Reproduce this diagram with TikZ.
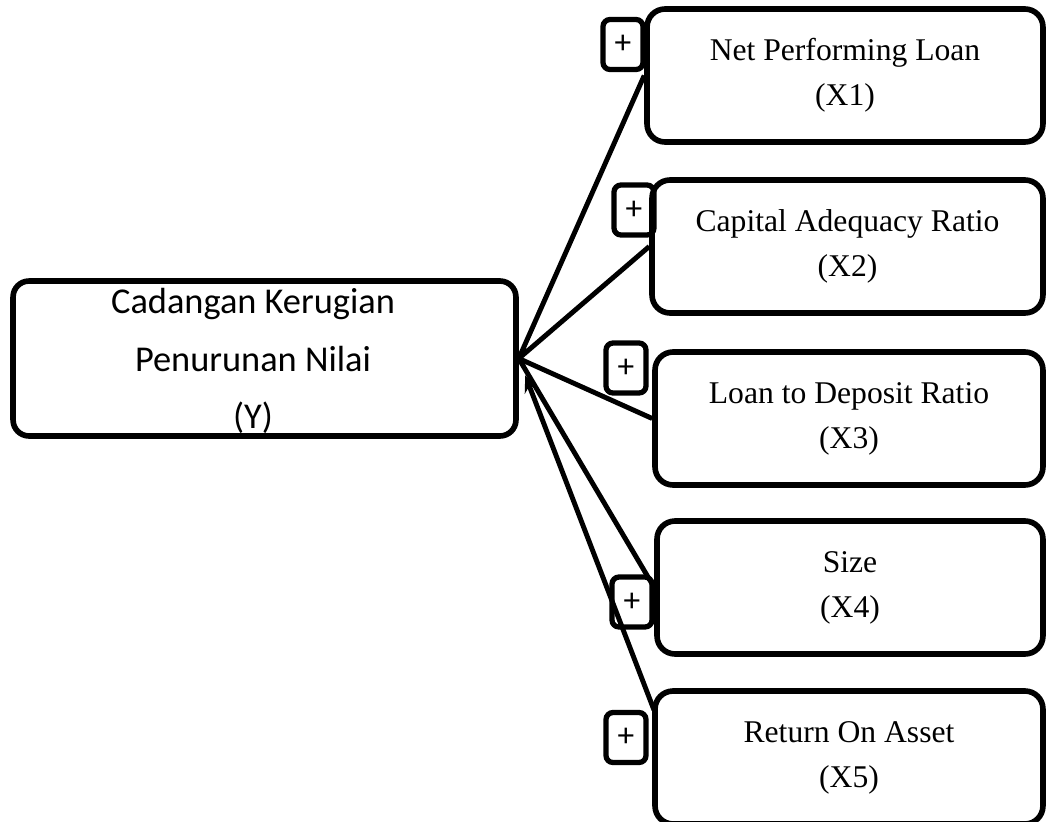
\documentclass[tikz,border=0pt]{standalone}
\usepackage{fontspec}
\setmainfont{Liberation Serif}
\newfontfamily\calibri{Carlito}
\usetikzlibrary{arrows.meta}
\begin{document}
\begin{tikzpicture}[x=0.02cm,y=-0.02cm,
            xbox/.style={draw,line width=3.2pt,rounded corners=0.36cm,
                minimum height=2.66cm,align=center,
                font=\fontsize{18}{25.5}\selectfont},
            sign/.style={draw,line width=3pt,rounded corners=0.14cm,
                minimum width=0.8cm,minimum height=1.0cm,inner sep=0pt,
                font=\calibri\fontsize{19}{19}\selectfont},
            link/.style={line width=2.8pt}]
            \useasboundingbox (0,0) rectangle (1046,822);
            \node[draw,line width=3.2pt,rounded corners=0.32cm,
                minimum width=10.06cm,minimum height=3.1cm] (Y) at (264.5,358.5) {};
            \node[align=center,font=\calibri\fontsize{20.7}{32.9}\selectfont]
                (ytext) at (253,361) {Cadangan Kerugian\\Penurunan Nilai\\(Y)};
            \node[xbox,minimum width=7.92cm] (X1) at (845,75.5) {Net Performing Loan\\(X1)};
            \node[xbox,minimum width=7.82cm] (X2) at (847.5,246.5) {Capital Adequacy Ratio\\(X2)};
            \node[xbox,minimum width=7.76cm] (X3) at (849,418.5) {Loan to Deposit Ratio\\(X3)};
            \node[xbox,minimum width=7.72cm] (X4) at (850,587.5) {Size\\(X4)};
            \node[xbox,minimum width=7.76cm] (X5) at (849,757.5) {Return On Asset\\(X5)};
            \coordinate (x5in) at (654,710);
            \draw[link] (X1.west) -- (Y.east)
                  (X2.west) -- (Y.east)
                  (X3.west) -- (Y.east)
                  (X4.west) -- (Y.east);
            \draw[link,-{Stealth[length=0.34cm,width=0.28cm]},shorten >=0.36cm] (x5in) -- (Y.east);
            \node[sign] (s1) at (623,44.5) {+};
            \node[sign] (s2) at (634,210) {+};
            \node[sign] (s3) at (626,368) {+};
            \node[sign] (s4) at (632,602) {+};
            \node[sign] (s5) at (626,737.5) {+};
        \end{tikzpicture}
\end{document}
